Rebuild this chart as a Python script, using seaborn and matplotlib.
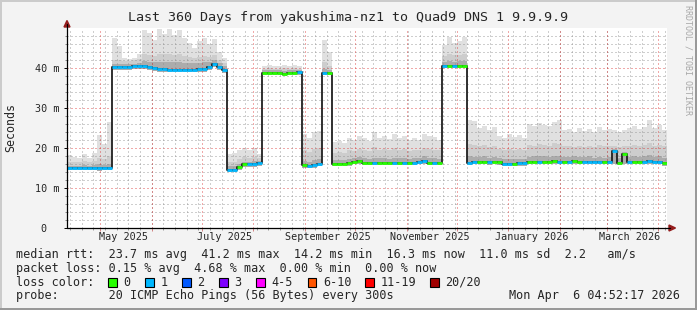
import numpy as np
import pandas as pd
import matplotlib
matplotlib.use("Agg")
import matplotlib.pyplot as plt
import matplotlib.dates as mdates
import seaborn as sns
from matplotlib.patches import Rectangle, Polygon
from matplotlib.lines import Line2D

# ---------------- data (3-day buckets, 360 days) ----------------
median_rtt = [
    15.0, 15.0, 15.0, 15.0, 15.0, 15.0, 14.9, 15.0, 15.0,
    40.3, 40.3, 40.3, 40.3, 40.4, 40.5, 40.5, 40.3, 40.0, 39.8, 39.8, 39.6, 39.6, 39.6, 39.6, 39.6, 39.6, 39.7, 39.8, 40.2, 41.0, 40.2, 39.5,
    14.6, 14.6, 15.2, 16.0, 16.0, 16.0, 16.2,
    38.8, 38.8, 38.8, 38.8, 38.5, 38.8, 38.8, 38.9,
    15.7, 15.6, 15.7, 16.0,
    38.8, 38.8,
    16.0, 16.0, 16.0, 16.2, 16.5, 16.8, 16.3, 16.3, 16.3, 16.3, 16.3, 16.3, 16.3, 16.3, 16.3, 16.3, 16.3, 16.6, 16.8, 16.3, 16.3, 16.3,
    40.5, 40.6, 40.5, 40.6, 40.5,
    16.3, 16.5, 16.6, 16.6, 16.4, 16.6, 16.4, 16.1, 16.0, 16.1, 16.2, 16.2, 16.5, 16.6, 16.6, 16.6, 16.6, 16.7, 16.6, 16.6,
    16.6, 16.7, 16.6, 16.6, 16.6, 16.5, 16.6, 16.5, 16.6, 19.3, 16.3, 18.5, 16.6, 16.6, 16.6, 16.6, 16.7, 16.6, 16.6, 16.2,
]
loss_level = [
    1, 1, 1, 1, 1, 1, 1, 1, 1,
    1, 1, 1, 1, 1, 1, 1, 1, 1, 1, 1, 1, 1, 1, 1, 1, 1, 1, 1, 1, 1, 1, 1,
    1, 1, 0, 0, 1, 1, 1,
    0, 0, 0, 0, 0, 0, 0, 1,
    0, 1, 1, 1,
    1, 0,
    0, 0, 0, 0, 0, 0, 0, 0, 1, 0, 0, 0, 1, 0, 1, 0, 1, 1, 1, 0, 1, 0,
    1, 0, 1, 0, 0,
    1, 1, 0, 0, 1, 0, 0, 1, 1, 0, 1, 1, 0, 0, 1, 0, 0, 0, 1, 0,
    1, 0, 0, 1, 1, 1, 1, 0, 1, 1, 0, 0, 1, 0, 0, 1, 1, 1, 1, 0,
]
rtt_min = [
    14.4, 14.4, 14.4, 14.4, 14.4, 14.4, 14.3, 14.4, 14.4,
    39.6, 39.6, 39.6, 39.6, 39.7, 39.8, 39.7, 39.5, 39.2, 39.0, 39.0, 38.9, 38.9, 38.9, 38.9, 38.9, 38.9, 39.0, 39.1, 39.5, 40.2, 39.5, 38.8,
    14.0, 14.0, 14.6, 15.3, 15.3, 15.3, 15.5,
    38.2, 38.2, 38.2, 38.2, 37.9, 38.2, 38.2, 38.3,
    15.1, 15.0, 15.1, 15.4,
    38.2, 38.2,
    15.4, 15.4, 15.4, 15.6, 15.9, 16.1, 15.7, 15.7, 15.7, 15.7, 15.7, 15.7, 15.7, 15.7, 15.7, 15.7, 15.7, 16.0, 16.1, 15.7, 15.7, 15.7,
    39.9, 40.0, 39.9, 40.0, 39.9,
    15.7, 15.9, 16.0, 16.0, 15.8, 16.0, 15.8, 15.5, 15.4, 15.5, 15.6, 15.6, 15.9, 16.0, 16.0, 16.0, 16.0, 16.1, 16.0, 16.0,
    16.0, 16.1, 16.0, 16.0, 16.0, 15.9, 16.0, 15.9, 16.0, 15.9, 15.7, 15.9, 16.0, 16.0, 16.0, 16.0, 16.1, 16.0, 16.0, 15.6,
]
rtt_dark = [
    15.6, 15.6, 15.5, 15.7, 15.6, 15.7, 15.9, 15.8, 16.0,
    41.0, 41.0, 41.0, 41.0, 41.1, 41.3, 41.8, 41.6, 41.4, 41.6, 41.5, 41.4, 41.4, 41.5, 41.3, 41.2, 41.2, 41.3, 41.5, 41.6, 42.0, 41.2, 40.5,
    15.4, 15.4, 16.0, 16.6, 16.6, 16.7, 16.7,
    39.4, 39.4, 39.4, 39.4, 39.2, 39.4, 39.4, 39.4,
    16.8, 16.6, 17.0, 17.2,
    39.8, 39.5,
    17.0, 17.0, 17.0, 17.3, 17.5, 17.8, 17.4, 17.3, 17.6, 17.4, 17.5, 17.3, 17.6, 17.4, 17.5, 17.3, 17.4, 17.6, 17.9, 17.5, 17.4, 17.3,
    41.6, 41.8, 41.6, 41.7, 41.8,
    18.0, 17.8, 17.8, 17.9, 17.6, 17.8, 17.5, 17.2, 17.2, 17.2, 17.3, 17.3, 17.8, 17.9, 18.0, 17.9, 17.8, 18.1, 18.0, 17.8,
    17.8, 17.9, 17.8, 17.8, 17.9, 17.6, 17.8, 17.6, 17.8, 19.8, 17.5, 18.9, 17.8, 17.9, 17.8, 17.9, 18.2, 17.8, 17.9, 17.4,
]
rtt_mid = [
    16.6, 16.5, 16.4, 16.7, 16.5, 16.8, 17.5, 17.2, 18.0,
    42.0, 42.0, 41.8, 41.8, 41.9, 42.2, 43.5, 43.2, 43.0, 43.6, 43.4, 43.5, 43.2, 43.4, 43.0, 42.8, 42.5, 42.8, 43.0, 42.8, 43.2, 42.0, 41.2,
    16.5, 16.6, 17.2, 17.8, 17.6, 17.8, 17.5,
    39.8, 39.9, 39.8, 39.8, 39.9, 39.8, 39.9, 39.8,
    19.5, 19.0, 19.8, 20.0,
    41.5, 40.5,
    18.8, 19.0, 18.8, 19.5, 19.2, 19.8, 19.6, 19.2, 20.2, 19.6, 19.8, 19.4, 20.0, 19.6, 19.8, 19.3, 19.6, 19.4, 20.0, 19.8, 19.6, 19.4,
    43.0, 43.5, 43.2, 43.3, 43.6,
    21.0, 20.8, 20.5, 20.8, 20.2, 20.6, 19.8, 19.5, 19.8, 19.6, 19.8, 19.6, 20.8, 20.6, 21.0, 20.8, 20.6, 21.2, 21.0, 20.4,
    20.5, 20.2, 20.6, 20.3, 20.6, 20.2, 20.8, 20.4, 20.5, 20.4, 20.2, 20.4, 20.6, 20.8, 20.5, 20.7, 21.2, 20.6, 20.8, 20.4,
]
rtt_max = [
    18.2, 17.8, 17.6, 18.4, 17.5, 18.8, 23.2, 21.0, 26.5,
    47.5, 45.5, 42.5, 42.3, 42.6, 43.5, 49.5, 48.8, 47.0, 49.8, 48.5, 49.8, 48.2, 49.5, 47.6, 46.2, 45.0, 46.8, 47.5, 46.0, 47.2, 44.0, 42.5,
    18.5, 18.8, 19.5, 20.0, 19.5, 20.0, 18.5,
    40.6, 40.8, 40.5, 40.6, 40.8, 40.6, 40.7, 40.5,
    23.5, 22.5, 24.0, 24.3,
    47.0, 44.0,
    21.5, 21.8, 21.2, 22.5, 22.0, 23.0, 22.5, 21.8, 24.0, 22.5, 23.0, 22.2, 23.5, 22.6, 23.0, 22.0, 22.5, 22.0, 23.6, 23.0, 22.8, 22.0,
    45.8, 47.8, 46.2, 46.8, 47.8,
    27.0, 26.8, 25.0, 25.5, 24.5, 25.3, 23.0, 22.5, 23.5, 22.8, 23.2, 22.5, 26.0, 25.5, 26.2, 25.8, 25.5, 26.5, 27.0, 24.5,
    24.8, 24.0, 25.0, 24.2, 24.8, 24.0, 25.2, 24.5, 24.8, 24.5, 24.0, 24.5, 25.0, 25.5, 24.8, 25.3, 27.0, 25.0, 25.8, 24.5,
]

loss_labels = ['0', '1', '2', '3', '4-5', '6-10', '11-19', '20/20']
loss_colors = ['#26ff00', '#00b8ff', '#0059ff', '#7e00ff', '#ff00ff', '#ff5500', '#ff0000', '#a10000']

ytick_values = [0, 10, 20, 30, 40]
ytick_labels = ['0  ', '10 m', '20 m', '30 m', '40 m']
xlabel_dates = ['2025-05-15', '2025-07-15', '2025-09-15', '2025-11-15', '2026-01-15', '2026-03-15']
xlabel_texts = ['May 2025', 'July 2025', 'September 2025', 'November 2025', 'January 2026', 'March 2026']

title = 'Last 360 Days from yakushima-nz1 to Quad9 DNS 1 9.9.9.9'
stats_line1 = 'median rtt:  23.7 ms avg  41.2 ms max  14.2 ms min  16.3 ms now  11.0 ms sd  2.2   am/s'
stats_line2 = 'packet loss: 0.15 % avg  4.68 % max  0.00 % min  0.00 % now'
probe_line = 'probe:       20 ICMP Echo Pings (56 Bytes) every 300s'
stamp = 'Mon Apr  6 04:52:17 2026'

start = pd.Timestamp('2025-04-11 04:52:17')
end = pd.Timestamp('2026-04-06 04:52:17')

# ---------------- figure ----------------
W, H = 697, 310
sns.set_theme(style="white")
plt.rcParams['font.family'] = ['DejaVu Sans Mono', 'DejaVu Sans']

fig = plt.figure(figsize=(W / 100, H / 100), dpi=100, facecolor='#f3f3f3')


def fx(px):
    return px / W


def fy(py):
    return 1 - py / H


L, R, T, B = 67, 667, 28, 228
ax = fig.add_axes([fx(L), fy(B), (R - L) / W, (B - T) / H])
ax.set_facecolor('white')
for s in ax.spines.values():
    s.set_visible(False)

edges = pd.date_range(start, periods=len(median_rtt) + 1, freq='3D')
xe = mdates.date2num(edges.to_pydatetime())


def ext(a):
    a = np.asarray(a, dtype=float)
    return np.append(a, a[-1])


# smoke
ax.fill_between(xe, ext(rtt_min), ext(rtt_max), step='post', color='#e0e0e0', lw=0, zorder=1)
ax.fill_between(xe, ext(rtt_min), ext(rtt_mid), step='post', color='#cdcdcd', lw=0, zorder=1)
ax.fill_between(xe, ext(rtt_min), ext(rtt_dark), step='post', color='#acacac', lw=0, zorder=1)

# grid (dotted, drawn over the smoke like rrdtool)
grid_gray = (0.55, 0.55, 0.55, 0.42)
grid_red = (0.85, 0.12, 0.12, 0.38)
gkw = dict(lw=0.75, ls=(0, (1, 2)), zorder=2, antialiased=False)
for v in range(2, 50, 2):
    ax.axhline(v, color=grid_red if v % 10 == 0 else grid_gray, **gkw)
weeks = pd.date_range(start.normalize(), end, freq='W-SUN')
months = pd.date_range('2025-05-01', end, freq='MS')
for d in weeks:
    ax.axvline(mdates.date2num(d.to_pydatetime()), color=grid_gray, **gkw)
for d in months:
    ax.axvline(mdates.date2num(d.to_pydatetime()), color=grid_red, **gkw)

# median line
df = pd.DataFrame({'t': xe, 'rtt': ext(median_rtt)})
sns.lineplot(data=df, x='t', y='rtt', drawstyle='steps-post', color='#202020', lw=1.3,
             ax=ax, zorder=4, estimator=None, sort=False)
ax.hlines(median_rtt, xe[:-1], xe[1:], colors=[loss_colors[l] for l in loss_level],
          lw=2.0, zorder=5)

ax.set_xlim(xe[0], xe[-1])
ax.set_ylim(0, 50)
ax.set_xlabel('')
ax.set_ylabel('')

# ticks
ax.set_yticks(ytick_values)
ax.set_yticklabels(ytick_labels, fontsize=7.3, family='DejaVu Sans Mono')
ax.set_yticks(range(0, 50, 2), minor=True)
ax.tick_params(axis='y', which='major', direction='out', length=2.5, width=0.7, pad=2.8, color='black', left=True)
ax.tick_params(axis='y', which='minor', direction='out', length=1.5, width=0.7, color='#888888', left=True)
ax.set_xticks([mdates.date2num(d.to_pydatetime()) for d in months])
ax.set_xticklabels([])
ax.set_xticks([mdates.date2num(d.to_pydatetime()) for d in weeks], minor=True)
ax.tick_params(axis='x', which='major', direction='out', length=2.5, width=0.7, color='#d08080', bottom=True)
ax.tick_params(axis='x', which='minor', direction='out', length=1.5, width=0.7, color='#999999', bottom=True)

xtr = ax.get_xaxis_transform()
for d, t in zip(xlabel_dates, xlabel_texts):
    ax.text(mdates.date2num(pd.Timestamp(d).to_pydatetime()), -(237.5 - B) / (B - T), t,
            transform=xtr, ha='center', va='center', fontsize=7.3, family='DejaVu Sans Mono')

# axis lines and arrows
arrow_col = '#941c1c'
fig.add_artist(Line2D([fx(L), fx(670)], [fy(B), fy(B)], color='black', lw=0.9))
fig.add_artist(Line2D([fx(L), fx(L)], [fy(B), fy(24)], color='black', lw=0.9))
fig.add_artist(Polygon([[fx(669), fy(225)], [fx(675.5), fy(B)], [fx(669), fy(231)]], closed=True,
                       color=arrow_col, transform=fig.transFigure))
fig.add_artist(Polygon([[fx(64), fy(27)], [fx(L), fy(20.5)], [fx(70), fy(27)]], closed=True,
                       color=arrow_col, transform=fig.transFigure))

# texts
fig.text(fx(348), fy(18), title, ha='center', va='center', fontsize=9.6, family='DejaVu Sans Mono')
fig.text(fx(10.5), fy(127), 'Seconds', rotation=90, ha='center', va='center', fontsize=8.4,
         family='DejaVu Sans Mono')
fig.text(fx(688), fy(60), 'RRDTOOL / TOBI OETIKER', rotation=270, ha='center', va='center',
         fontsize=6.0, color='#a8a8a8', family='DejaVu Sans Mono')

fs = 8.5
fig.text(fx(16), fy(254.5), stats_line1, ha='left', va='center', fontsize=fs, family='DejaVu Sans Mono')
fig.text(fx(16), fy(268.5), stats_line2, ha='left', va='center', fontsize=fs, family='DejaVu Sans Mono')
fig.text(fx(16), fy(282.3), 'loss color:', ha='left', va='center', fontsize=fs, family='DejaVu Sans Mono')
fig.text(fx(16), fy(296), probe_line, ha='left', va='center', fontsize=fs, family='DejaVu Sans Mono')
fig.text(fx(680), fy(296), stamp, ha='right', va='center', fontsize=fs, family='DejaVu Sans Mono')

box_x = [108, 145, 182, 219, 256, 307.6, 365, 430]
for bx, lab, col in zip(box_x, loss_labels, loss_colors):
    fig.add_artist(Rectangle((fx(bx), fy(286.5)), 8.5 / W, 8.5 / H, facecolor=col, edgecolor='black',
                             lw=0.8, transform=fig.transFigure))
    fig.text(fx(bx + 15.5), fy(282.3), lab, ha='left', va='center', fontsize=fs, family='DejaVu Sans Mono')

# 3D frame
fig.add_artist(Rectangle((0, fy(2)), 1, 2 / H, facecolor='#cbcbcb', lw=0, transform=fig.transFigure))
fig.add_artist(Rectangle((0, 0), 2 / W, 1, facecolor='#cbcbcb', lw=0, transform=fig.transFigure))
fig.add_artist(Rectangle((0, 0), 1, 2 / H, facecolor='#999999', lw=0, transform=fig.transFigure))
fig.add_artist(Rectangle((fx(695), 0), 2 / W, 1, facecolor='#999999', lw=0, transform=fig.transFigure))

fig.savefig('out.png', dpi=100, facecolor=fig.get_facecolor())
